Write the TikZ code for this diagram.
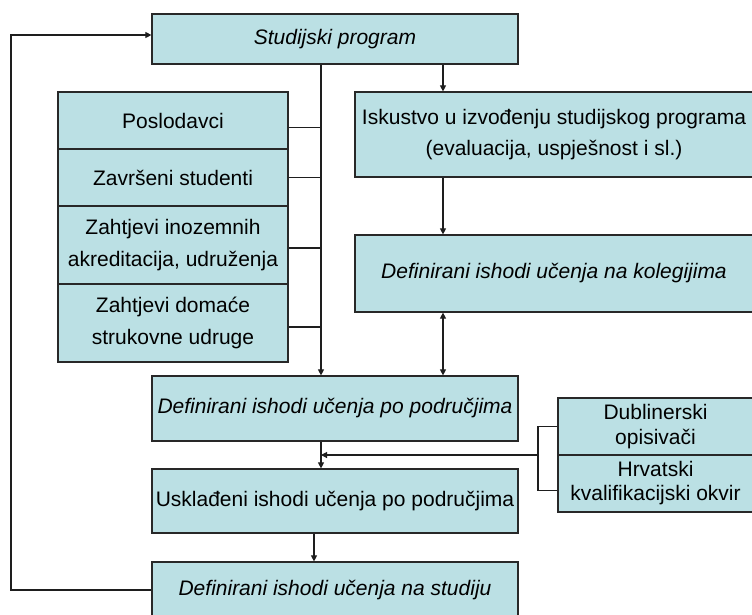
\documentclass[tikz,border=0pt]{standalone}
\usepackage{fontspec}
\setmainfont{Liberation Sans}
\usetikzlibrary{arrows.meta}
\definecolor{boxfill}{RGB}{187,224,228}
\definecolor{boxline}{RGB}{40,40,40}
\definecolor{conn}{RGB}{30,30,30}
\tikzset{
  box/.style={draw=boxline, line width=1.2pt, fill=boxfill, rectangle, inner sep=0pt, align=center,
    font=\fontsize{21}{28}\selectfont},
  itbox/.style={box, font=\fontsize{21}{28}\selectfont\itshape},
  conline/.style={draw=conn, line width=1.1pt},
  arr/.style={conline, -{Triangle[width=6pt,length=6pt]}},
  darr/.style={conline, {Triangle[width=6pt,length=6pt]}-{Triangle[width=6pt,length=6pt]}}
}
\begin{document}
\begin{tikzpicture}[x=1pt,y=-1pt]
\path[use as bounding box, clip] (0,0) rectangle (752,614);
\fill[white] (0,0) rectangle (752,614);
% boxes
\node[itbox, minimum width=366pt, minimum height=50pt] (sp) at (335,39) {Studijski program};
\node[box, minimum width=230pt, minimum height=57pt] (pos) at (173,120.5) {Poslodavci};
\node[box, minimum width=230pt, minimum height=57pt] (zav) at (173,177.5) {Završeni studenti};
\node[box, minimum width=230pt, minimum height=78pt, font=\fontsize{21}{32}\selectfont] (ino) at (173,245) {Zahtjevi inozemnih\\akreditacija, udruženja};
\node[box, minimum width=230pt, minimum height=78pt, font=\fontsize{21}{32}\selectfont] (dom) at (173,323) {Zahtjevi domaće\\strukovne udruge};
\node[box, minimum width=398pt, minimum height=85pt, font=\fontsize{21}{31}\selectfont] (isk) at (554,134.5) {Iskustvo u izvođenju studijskog programa\\(evaluacija, uspješnost i sl.)};
\node[itbox, minimum width=398pt, minimum height=77pt] (kol) at (554,273.5) {Definirani ishodi učenja na kolegijima};
\node[itbox, minimum width=366pt, minimum height=65pt] (po) at (335,408.5) {Definirani ishodi učenja po područjima};
\node[box, minimum width=366pt, minimum height=64pt] (usk) at (335,501) {Usklađeni ishodi učenja po područjima};
\node[itbox, minimum width=366pt, minimum height=56pt] (stu) at (335,590) {Definirani ishodi učenja na studiju};
\node[box, minimum width=195pt, minimum height=57pt, font=\fontsize{21}{25}\selectfont] (dub) at (655.5,426.5) {Dublinerski\\opisivači};
\node[box, minimum width=195pt, minimum height=57pt, font=\fontsize{21}{24}\selectfont] (hrv) at (655.5,483.5) {Hrvatski\\kvalifikacijski okvir};
% helper coordinates
\coordinate (tx) at (321,0);
\coordinate (ax) at (443,0);
\coordinate (cx) at (314,0);
\coordinate (bx) at (538,0);
\coordinate (bm) at (538,455);
\coordinate (fb) at (11,590);
% connectors
\draw[arr] (stu.west) -- (fb) |- ([yshift=4pt]sp.west);
\draw[arr] (sp.south -| tx) -- (po.north -| tx);
\draw[conline] ([yshift=-7pt]pos.east) -- ([yshift=-7pt]pos.east -| tx);
\draw[conline] (zav.east) -- (zav.east -| tx);
\draw[conline] ([yshift=-3pt]ino.east) -- ([yshift=-3pt]ino.east -| tx);
\draw[conline] ([yshift=-4pt]dom.east) -- ([yshift=-4pt]dom.east -| tx);
\draw[arr] (sp.south -| ax) -- (isk.north -| ax);
\draw[arr] (isk.south -| ax) -- (kol.north -| ax);
\draw[darr] (kol.south -| ax) -- (po.north -| ax);
\draw[arr] (po.south -| tx) -- (usk.north -| tx);
\draw[conline] (dub.west) -- (dub.west -| bx) -- ([yshift=-7pt]hrv.west -| bx) -- ([yshift=-7pt]hrv.west);
\draw[arr] (bm) -- (bm -| tx);
\draw[arr] (usk.south -| cx) -- (stu.north -| cx);
\end{tikzpicture}
\end{document}
